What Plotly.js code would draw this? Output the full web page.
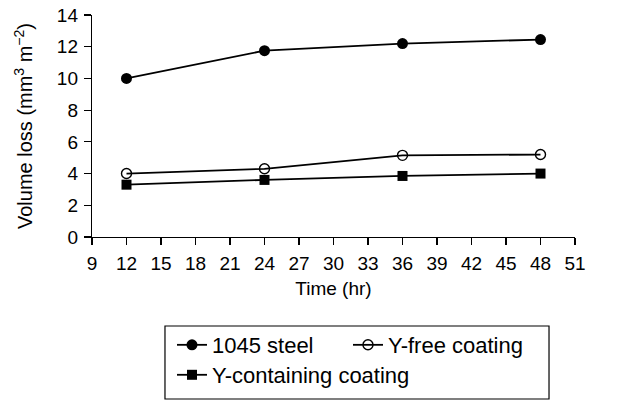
<!DOCTYPE html>
<html>
<head>
<meta charset="utf-8">
<script src="https://cdn.plot.ly/plotly-3.0.1.min.js"></script>
<style>html,body{margin:0;padding:0;background:#fff;}#chart{width:633px;height:400px;}</style>
</head>
<body>
<div id="chart"></div>
<script>
// Wear test: volume loss versus sliding time
const timeHr = [12, 24, 36, 48];
const steel1045 = [10.0, 11.75, 12.2, 12.45];
const yFreeCoating = [4.0, 4.3, 5.15, 5.2];
const yContainingCoating = [3.3, 3.6, 3.85, 4.0];

const xTicks = [9, 12, 15, 18, 21, 24, 27, 30, 33, 36, 39, 42, 45, 48, 51];
const yTicks = [0, 2, 4, 6, 8, 10, 12, 14];

const axisFont = {family: 'Liberation Sans, Arial, sans-serif', size: 19, color: '#000'};
const titleFont = {family: 'Liberation Sans, Arial, sans-serif', size: 20, color: '#000'};
const legendFont = {family: 'Liberation Sans, Arial, sans-serif', size: 22, color: '#000'};

const lineStyle = {color: '#000', width: 1.8};

const traces = [
  {
    x: timeHr, y: steel1045, name: '1045 steel', mode: 'lines+markers',
    line: lineStyle, legend: 'legend',
    marker: {symbol: 'circle', size: 11, color: '#000'}
  },
  {
    x: timeHr, y: yFreeCoating, name: 'Y-free coating', mode: 'lines+markers',
    line: lineStyle, legend: 'legend',
    marker: {symbol: 'circle-open', size: 10, color: '#000', line: {width: 1.4, color: '#000'}}
  },
  {
    x: timeHr, y: yContainingCoating, name: 'Y-containing coating', mode: 'lines+markers',
    line: lineStyle, legend: 'legend2',
    marker: {symbol: 'square', size: 10, color: '#000'}
  }
];

// two legend rows sharing one framed box
const legendRow = {
  orientation: 'h',
  x: 0.1656, xanchor: 'left', yanchor: 'top',
  bgcolor: 'rgba(0,0,0,0)', borderwidth: 0,
  font: legendFont,
  itemwidth: 30
};

const layout = {
  width: 633, height: 400,
  margin: {l: 92, r: 58, t: 15, b: 163, autoexpand: false},
  paper_bgcolor: '#fff', plot_bgcolor: '#fff',
  font: axisFont,
  showlegend: true,
  legend: Object.assign({}, legendRow, {y: -0.392, entrywidth: 131}),
  legend2: Object.assign({}, legendRow, {y: -0.527}),
  shapes: [{
    type: 'rect', xref: 'paper', yref: 'paper',
    x0: 0.1511, x1: 0.9462, y0: -0.7297, y1: -0.4009,
    line: {color: '#000', width: 1.2}, fillcolor: 'rgba(0,0,0,0)'
  }],
  xaxis: {
    range: [9, 51],
    tickvals: xTicks,
    ticktext: xTicks.map(String),
    ticks: 'outside', ticklen: 7, tickwidth: 1.2, tickcolor: '#000',
    showline: true, linecolor: '#000', linewidth: 1.2,
    showgrid: false, zeroline: false,
    tickfont: axisFont,
    ticklabelstandoff: 2,
    title: {text: 'Time (hr)', font: axisFont, standoff: 8}
  },
  yaxis: {
    range: [0, 14],
    tickvals: yTicks,
    ticks: 'outside', ticklen: 7, tickwidth: 1.2, tickcolor: '#000',
    showline: true, linecolor: '#000', linewidth: 1.2,
    showgrid: false, zeroline: false,
    tickfont: axisFont,
    ticklabelstandoff: 2,
    title: {text: 'Volume loss (mm<sup>3</sup> m<sup>−2</sup>)', font: titleFont, standoff: 18}
  }
};

Plotly.newPlot('chart', traces, layout, {displayModeBar: false, staticPlot: true});
</script>
</body>
</html>
